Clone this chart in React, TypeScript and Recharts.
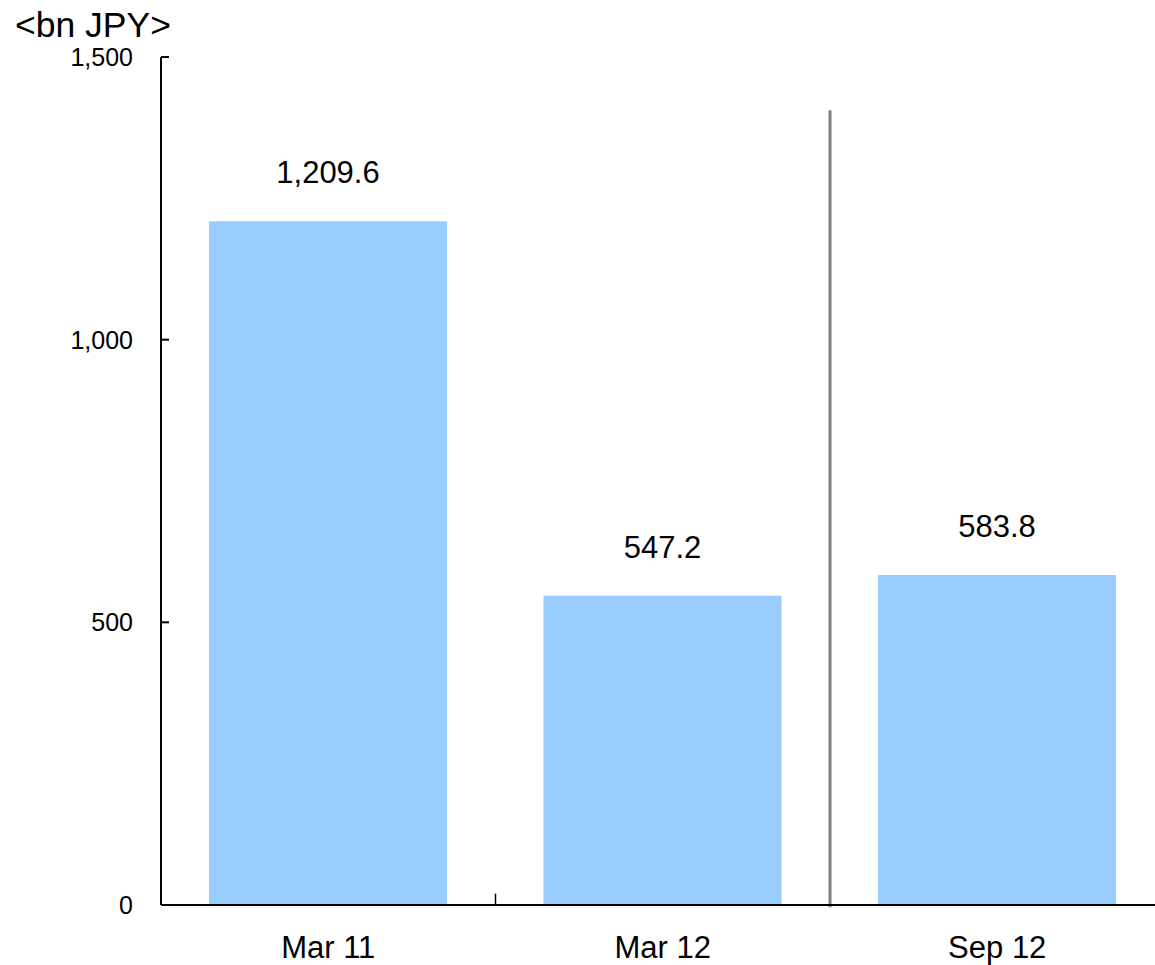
import React from "react";
import { BarChart, Bar, XAxis, YAxis, ReferenceLine, LabelList } from "recharts";

const periods = ["Mar 11", "Mar 12", "Sep 12"];
const balances = [1209.6, 547.2, 583.8];
const yTicks = [0, 500, 1000, 1500];
// categories whose left band edge carries a small tick on the x axis
const edgeTickPeriods = ["Mar 12", "Sep 12"];
// the interim period is set apart by a divider at its left band edge
const dividerPeriod = "Sep 12";
const unitLabel = "<bn JPY>";

const FONT = '"Liberation Sans", Arial, sans-serif';

// Plot-area frame
const Y_AXIS_WIDTH = 161;
const Y_TICK_GAP = 28;
const Y_TICK_LEN = 8;

const data = periods.map((period, i) => ({ period, value: balances[i] }));

const fmt = (v: number) => v.toLocaleString("en-US");
const fmt1 = (v: number) =>
  v.toLocaleString("en-US", { minimumFractionDigits: 1, maximumFractionDigits: 1 });

// Left axis tick: label to the left, short tick mark pointing into the plot
const YTick = (props: any) => {
  const { y, payload } = props;
  return (
    <g>
      <line
        x1={Y_AXIS_WIDTH}
        x2={Y_AXIS_WIDTH + Y_TICK_LEN}
        y1={y}
        y2={y}
        stroke="#000"
        strokeWidth={2}
      />
      <text
        x={Y_AXIS_WIDTH - Y_TICK_GAP}
        y={y}
        dy="0.36em"
        textAnchor="end"
        fontSize={25}
        fontFamily={FONT}
        fill="#000"
      >
        {fmt(payload.value)}
      </text>
    </g>
  );
};

export default function App() {
  return (
    <div
      style={{
        position: "absolute",
        left: 0,
        top: 0,
        width: 1155,
        height: 965,
        overflow: "hidden",
        background: "#fff",
      }}
    >
      <svg
        width={320}
        height={60}
        style={{ position: "absolute", left: 0, top: 0 }}
      >
        <text x={15} y={37} fontSize={35.5} fontFamily={FONT} fill="#000">
          {unitLabel}
        </text>
      </svg>
      <BarChart
        width={1170}
        height={965}
        data={data}
        margin={{ top: 57, right: 5.5, bottom: 0, left: 0 }}
        barCategoryGap={48}
      >
        <XAxis
          dataKey="period"
          height={60}
          tickLine={false}
          tickSize={0}
          tickMargin={31}
          axisLine={{ stroke: "#000", strokeWidth: 2 }}
          tick={{ fontSize: 31, fontFamily: FONT, fill: "#000" }}
        />
        <YAxis
          width={Y_AXIS_WIDTH}
          domain={[0, 1500]}
          ticks={yTicks}
          interval={0}
          tickLine={false}
          axisLine={{ stroke: "#000", strokeWidth: 2 }}
          tick={<YTick />}
        />
        <Bar dataKey="value" fill="#99CCFF" barSize={238} isAnimationActive={false}>
          <LabelList
            dataKey="value"
            position="top"
            offset={38}
            formatter={(v: any) => fmt1(Number(v))}
            style={{ fontSize: 31, fontFamily: FONT, fill: "#000" }}
          />
        </Bar>
        {edgeTickPeriods.map((p) => (
          <ReferenceLine
            key={p}
            position="start"
            segment={[
              { x: p, y: 0 },
              { x: p, y: 20 },
            ]}
            stroke="#000"
            strokeWidth={1.5}
          />
        ))}
        <ReferenceLine
          position="start"
          ifOverflow="visible"
          segment={[
            { x: dividerPeriod, y: 1406 },
            { x: dividerPeriod, y: -4 },
          ]}
          stroke="#808080"
          strokeWidth={3}
        />
      </BarChart>
    </div>
  );
}
